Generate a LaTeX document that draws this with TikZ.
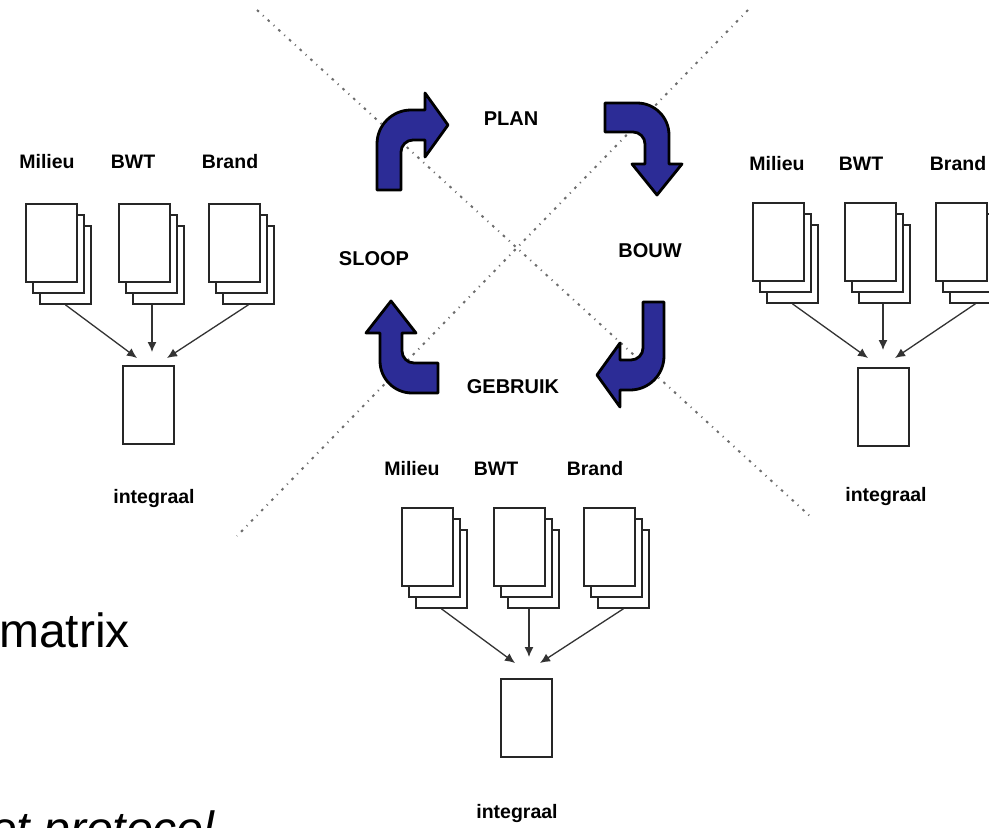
\documentclass[tikz,border=0pt]{standalone}
\usepackage{fontspec}
\setmainfont{Liberation Sans}
\usetikzlibrary{arrows.meta,calc}
\definecolor{cycleblue}{RGB}{44,44,150}
\definecolor{guidegray}{RGB}{110,110,110}
\newcommand{\docstack}[3]{%
  \node[page] (#13) at (#2+14,#3+22) {};
  \node[page] (#12) at (#2+7,#3+11) {};
  \node[page] (#11) at (#2,#3) {};
}
\begin{document}
\begin{tikzpicture}[x=1pt,y=-1pt,
  lbl/.style={font=\bfseries\fontsize{19.5}{24}\selectfont, inner sep=0, anchor=base},
  phase/.style={font=\bfseries\fontsize{20}{24}\selectfont, inner sep=0, anchor=base},
  page/.style={draw=black!85, fill=white, line width=1.8pt, minimum width=51pt, minimum height=78pt, inner sep=0, anchor=north west},
  conn/.style={draw=black!80, line width=1.3pt, -{Latex[length=10pt,width=9pt]}},
  guide/.style={draw=guidegray, line width=2pt, dash pattern=on 2.5pt off 5.5pt on 1pt off 5.5pt},
  cyc/.style={fill=cycleblue, draw=black, line width=2.8pt, line join=round},
  big/.style={font=\fontsize{48}{56}\selectfont, inner sep=0, anchor=base west}
]
\useasboundingbox (0,0) rectangle (989,828);
\clip (0,0) rectangle (989,828);
\fill[white] (0,0) rectangle (989,828);

% guide lines
\coordinate (g1a) at (257,10);
\coordinate (g1b) at (812,518);
\coordinate (g2a) at (748,10);
\coordinate (g2b) at (237,536);
\draw[guide] (g1a) -- (g1b);
\draw[guide] (g2a) -- (g2b);

% cycle arrows
\begin{scope}[shift={(377,190)}, x=1pt, y=1pt]
\path[cyc] (0,0) -- (0,46) arc[start angle=180,end angle=90,radius=34] -- (48,80) -- (48,97) -- (71,65) -- (48,33) -- (48,50) -- (36,50) arc[start angle=90,end angle=180,radius=12] -- (24,0) -- cycle;
\end{scope}
\begin{scope}[shift={(605,103)}, x=1pt, y=1pt, rotate=-90]
\path[cyc] (0,0) -- (0,32) arc[start angle=180,end angle=90,radius=32] -- (61,64) -- (61,77) -- (92,52) -- (61,27) -- (61,40) -- (41,40) arc[start angle=90,end angle=180,radius=12] -- (29,0) -- cycle;
\end{scope}
\begin{scope}[shift={(664,302)}, x=1pt, y=1pt, rotate=180]
\path[cyc] (0,0) -- (0,54) arc[start angle=180,end angle=90,radius=34] -- (44,88) -- (44,105) -- (67,73) -- (44,41) -- (44,58) -- (33,58) arc[start angle=90,end angle=180,radius=12] -- (21,0) -- cycle;
\end{scope}
\begin{scope}[shift={(438,393)}, x=1pt, y=1pt, rotate=90]
\path[cyc] (0,0) -- (0,26) arc[start angle=180,end angle=90,radius=32] -- (60,58) -- (60,72) -- (92,47) -- (60,22) -- (60,36) -- (42,36) arc[start angle=90,end angle=180,radius=12] -- (30,0) -- cycle;
\end{scope}

% phase labels
\node[phase] (plan) at (511,125) {PLAN};
\node[phase] (sloop) at (374,265) {SLOOP};
\node[phase] (bouw) at (650,257) {BOUW};
\node[phase] (gebruik) at (513,393) {GEBRUIK};

% left group
\node[lbl] (Lmilt) at (47,168) {Milieu};
\node[lbl] (Lbwtt) at (133,168) {BWT};
\node[lbl] (Lbrdt) at (230,168) {Brand};
\docstack{Lmil}{25}{203}
\docstack{Lbwt}{118}{203}
\docstack{Lbrd}{208}{203}
\node[page] (Lint) at (122,365) {};
\node[lbl] (Lintt) at (154,503) {integraal};
\coordinate (Lme) at (137,358);
\coordinate (Lbe) at (152,352);
\coordinate (Lre) at (167,358);
\draw[conn] (Lmil3.south) -- (Lme);
\draw[conn] (Lbwt3.south -| Lbe) -- (Lbe);
\draw[conn] (Lbrd3.south) -- (Lre);

% right group
\node[lbl] (Rmilt) at (777,170) {Milieu};
\node[lbl] (Rbwtt) at (861,170) {BWT};
\node[lbl] (Rbrdt) at (958,170) {Brand};
\docstack{Rmil}{752}{202}
\docstack{Rbwt}{844}{202}
\docstack{Rbrd}{935}{202}
\node[page] (Rint) at (857,367) {};
\node[lbl] (Rintt) at (886,501) {integraal};
\coordinate (Rme) at (868,358);
\coordinate (Rbe) at (883,350);
\coordinate (Rre) at (895,358);
\draw[conn] (Rmil3.south) -- (Rme);
\draw[conn] (Rbwt3.south -| Rbe) -- (Rbe);
\draw[conn] (Rbrd3.south) -- (Rre);

% bottom group
\node[lbl] (Bmilt) at (412,475) {Milieu};
\node[lbl] (Bbwtt) at (496,475) {BWT};
\node[lbl] (Bbrdt) at (595,475) {Brand};
\docstack{Bmil}{401}{507}
\docstack{Bbwt}{493}{507}
\docstack{Bbrd}{583}{507}
\node[page] (Bint) at (500,678) {};
\node[lbl] (Bintt) at (517,818) {integraal};
\coordinate (Bme) at (515,663);
\coordinate (Bbe) at (529,657);
\coordinate (Bre) at (540,663);
\draw[conn] (Bmil3.south) -- (Bme);
\draw[conn] (Bbwt3.south -| Bbe) -- (Bbe);
\draw[conn] (Bbrd3.south) -- (Bre);

% cut-off slide text
\node[big] (matrix) at (-1,647) {matrix};
\node[big, font=\itshape\fontsize{48}{56}\selectfont] (protocol) at (-10,845) {et protocol};
\end{tikzpicture}
\end{document}
